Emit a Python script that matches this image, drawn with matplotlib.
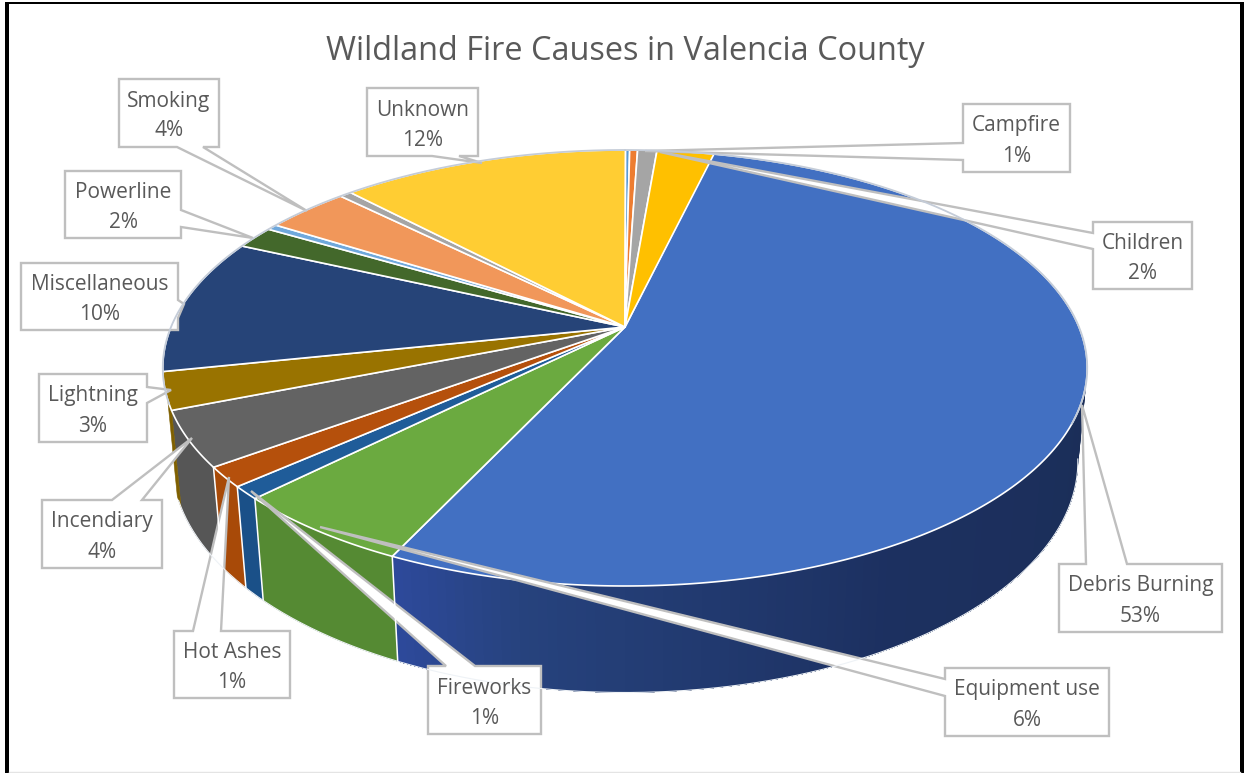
import numpy as np
import matplotlib
matplotlib.use("Agg")
import matplotlib.pyplot as plt
from matplotlib.patches import Polygon, Rectangle

# slices clockwise from the Debris Burning edge, share of the pie in percent
SLICE_NAMES = ["Debris Burning", "Equipment use", "Fireworks", "Hot Ashes",
               "Incendiary", "Lightning", "Miscellaneous", "Powerline",
               "sliver a", "Smoking", "sliver b", "Unknown",
               "sliver c", "sliver d", "Campfire", "Children"]
SLICE_SHARE = [53.3, 5.5, 0.94, 1.47, 4.08, 2.75, 10.08, 1.69,
               0.44, 3.5, 0.5, 12.08, 0.17, 0.33, 0.81, 2.39]
TOP_COLORS = ["#4270C2", "#6BAA40", "#1F5C99", "#B5500C", "#636363", "#997300",
              "#264478", "#43682B", "#6FA8DC", "#F1975A", "#A5A5A5", "#FFCD33",
              "#5B9BD5", "#ED7D31", "#A5A5A5", "#FFC000"]
WALL_COLORS = ["#1B2E58", "#558A33", "#1A5088", "#A84A08", "#565656", "#7F6000",
               "#1E3660", "#365522", "#5B8DB8", "#C8794A", "#8A8A8A", "#D4A520",
               "#4A80B0", "#C5651F", "#8A8A8A", "#D4A000"]

# callout text
LABEL_NAMES = ["Debris Burning", "Equipment use", "Fireworks", "Hot Ashes",
               "Incendiary", "Lightning", "Miscellaneous", "Powerline",
               "Smoking", "Unknown", "Campfire", "Children"]
LABEL_PCT = ["53%", "6%", "1%", "1%", "4%", "3%", "10%", "2%", "4%", "12%", "1%", "2%"]

# callout layout in pixels: box (x0, y0, x1, y1), wedge base side, base a, base b, tip
CALLOUTS = [
    ((1059, 564, 1222, 632), "top", 1086, 1127, (1082, 405)),
    ((945, 668, 1109, 736), "left", 679, 696, (320, 527)),
    ((428, 666, 541, 734), "top", 446, 475, (251, 491)),
    ((174, 631, 290, 698), "top", 193, 221, (229, 477)),
    ((42, 500, 162, 568), "top", 112, 142, (192, 438)),
    ((39, 374, 147, 442), "right", 387, 403, (171, 390)),
    ((21, 263, 178, 330), "right", 300, 318, (184, 304)),
    ((65, 171, 181, 238), "right", 210, 227, (253, 238)),
    ((119, 79, 219, 147), "bottom", 177, 203, (307, 211)),
    ((367, 88, 478, 156), "bottom", 432, 459, (482, 163)),
    ((963, 104, 1070, 172), "left", 143, 160, (645, 151)),
    ((1093, 222, 1192, 289), "left", 233, 249, (660, 152)),
]

# perspective of the disc, fitted to the picture
CX, CY = 625.0, 327.0
A, B, K = 210.3, 454.0, -0.188
DROP_C, DROP_E = 93.8, 0.02
START = 13.3
WALL_END = 251.0
EDGE_GRAY = "#BFBFBF"
TEXT_GRAY = "#595959"


def top_xy(theta):
    t = np.radians(theta)
    u, v = np.sin(t), -np.cos(t)
    w = 1 + K * v
    return CX + B * u / w, CY + A * v / w


def bottom_xy(theta):
    t = np.radians(theta)
    u, v = np.sin(t), -np.cos(t)
    w = 1 + K * v + DROP_E
    return CX + B * u / w, CY + (A * v + DROP_C) / w


def arc(fn, a0, a1):
    n = max(2, int(abs(a1 - a0) * 2) + 1)
    x, y = fn(np.linspace(a0, a1, n))
    return np.column_stack([x, y])


def debris_shade(theta):
    # side of the big slice gets lighter towards its left end
    stops = [13, 100, 150, 190, 206]
    r = np.interp(theta, stops, [27, 27, 28, 38, 46])
    g = np.interp(theta, stops, [46, 46, 48, 66, 74])
    b = np.interp(theta, stops, [87, 87, 96, 125, 158])
    return (r / 255, g / 255, b / 255)


fig = plt.figure(figsize=(12.44, 7.73), dpi=100)
ax = fig.add_axes([0, 0, 1, 1])
ax.set_xlim(0, 1244)
ax.set_ylim(773, 0)
ax.axis("off")

# frame of the pasted picture
ax.add_patch(Rectangle((5, 2), 4, 771, color="black", lw=0))
ax.add_patch(Rectangle((5, 2), 1239, 2, color="black", lw=0))
ax.add_patch(Rectangle((1240, 2), 4, 771, color="black", lw=0))
ax.plot([9, 1240], [772, 772], color="#E4E4E4", lw=1)

edges = START + np.cumsum([0] + SLICE_SHARE) * 3.6

# side walls
for i, name in enumerate(SLICE_NAMES):
    a0, a1 = max(edges[i], 80), min(edges[i + 1], WALL_END)
    if a1 <= a0:
        continue
    if name == "Debris Burning":
        # paint overlapping strips so no seams show
        for s in np.arange(a0, a1, 1.0):
            pts = np.vstack([arc(top_xy, s, a1), arc(bottom_xy, a1, s)])
            ax.add_patch(Polygon(pts, closed=True, fc=debris_shade(s), ec="none"))
    else:
        pts = np.vstack([arc(top_xy, a0, a1), arc(bottom_xy, a1, a0)])
        ax.add_patch(Polygon(pts, closed=True, fc=WALL_COLORS[i], ec=WALL_COLORS[i], lw=0.4))

# white seams on the walls and pale lower rim
for e in edges:
    if 200 < e < 240:
        x0, y0 = top_xy(e)
        x1, y1 = bottom_xy(e)
        ax.plot([x0, x1], [y0, y1], color="white", lw=1.1)
low = arc(bottom_xy, 100, 250)
ax.plot(low[:, 0], low[:, 1], color="#EEF2F6", lw=0.8)

# back rim outline
for a0, a1 in [(250, 360), (0, 115)]:
    rim = arc(top_xy, a0, a1)
    ax.plot(rim[:, 0], rim[:, 1], color="#C4CCD8", lw=1.3)

# top face
for i in range(len(SLICE_SHARE)):
    pts = np.vstack([[CX, CY], arc(top_xy, edges[i], edges[i + 1])])
    ax.add_patch(Polygon(pts, closed=True, fc=TOP_COLORS[i], ec="white", lw=1.2, joinstyle="round"))

# callouts with their wedges
for (box, side, b0, b1, tip), name, pct in zip(CALLOUTS, LABEL_NAMES, LABEL_PCT):
    x0, y0, x1, y1 = box
    if side == "top":
        pts = [(x0, y0), (b0, y0), tip, (b1, y0), (x1, y0), (x1, y1), (x0, y1)]
    elif side == "bottom":
        pts = [(x0, y0), (x1, y0), (x1, y1), (b1, y1), tip, (b0, y1), (x0, y1)]
    elif side == "left":
        pts = [(x0, y0), (x1, y0), (x1, y1), (x0, y1), (x0, b1), tip, (x0, b0)]
    else:
        pts = [(x0, y0), (x1, y0), (x1, b0), tip, (x1, b1), (x1, y1), (x0, y1)]
    ax.add_patch(Polygon(pts, closed=True, fc="white", ec=EDGE_GRAY, lw=1.7, joinstyle="miter"))
    cx, cy = (x0 + x1) / 2, (y0 + y1) / 2
    ax.text(cx, cy - 12, name, ha="center", va="center", fontsize=15,
            family="Open Sans", color=TEXT_GRAY)
    ax.text(cx, cy + 18, pct, ha="center", va="center", fontsize=15,
            family="Open Sans", color=TEXT_GRAY)

ax.text(625, 51, "Wildland Fire Causes in Valencia County", ha="center", va="center",
        fontsize=23.45, family="Open Sans", color=TEXT_GRAY)

fig.savefig("out.png", dpi=100)
